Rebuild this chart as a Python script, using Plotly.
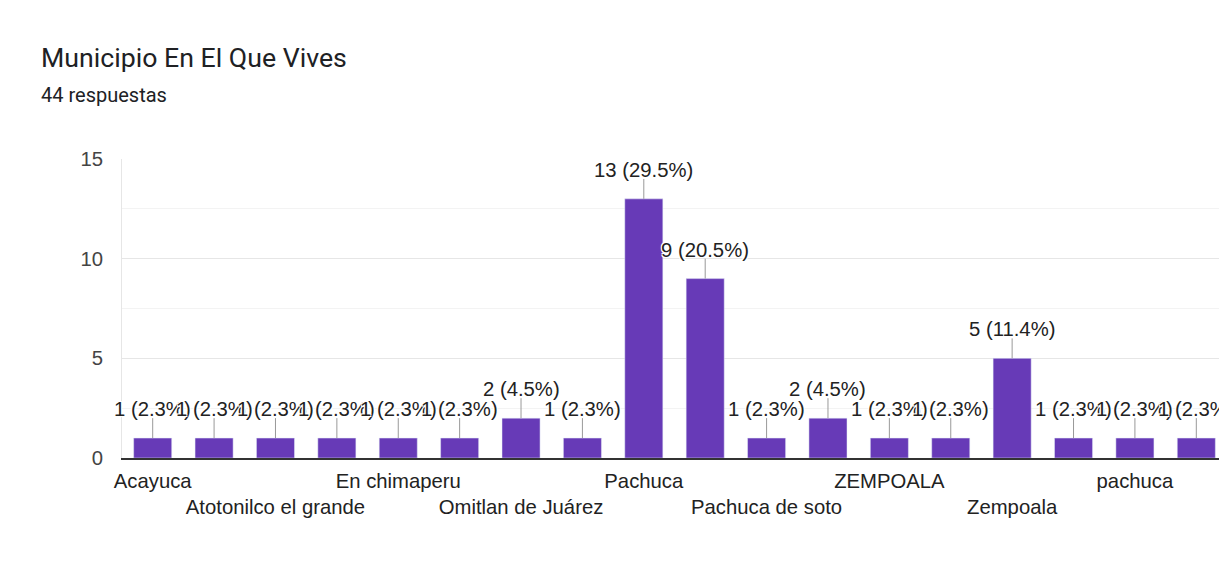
import plotly.graph_objects as go

# respuestas por municipio (orden alfabetico, como en el formulario)
municipios = [
    "Acayuca", "Actopan", "Atotonilco el grande", "El Arenal",
    "En chimaperu", "Mineral de la Reforma", "Omitlan de Juárez", "PACHUCA",
    "Pachuca", "Pachuca de Soto", "Pachuca de soto", "Tulancingo",
    "ZEMPOALA", "Zapotlán de Juárez", "Zempoala", "mineral de la reforma",
    "pachuca", "zempoala",
]
respuestas = [1, 1, 1, 1, 1, 1, 2, 1, 13, 9, 1, 2, 1, 1, 5, 1, 1, 1]
total = 44

# etiquetas del eje x que se ven (dos filas alternadas)
fila1 = ["Acayuca", "En chimaperu", "Pachuca", "ZEMPOALA", "pachuca"]
fila2 = ["Atotonilco el grande", "Omitlan de Juárez", "Pachuca de soto", "Zempoala"]

purple = "#673ab7"
label_font = "Liberation Sans, Arial, sans-serif"
fsize = 20.3
halo = "-1px -1px 0 #fff, 1px -1px 0 #fff, -1px 1px 0 #fff, 1px 1px 0 #fff, 0 0 2px #fff"
guia = 1.0  # largo de la linea guia en unidades del eje (~20px)

fig = go.Figure()
fig.add_trace(go.Bar(
    x=municipios, y=respuestas, marker_color=purple,
    hovertemplate="%{x}: %{y}<extra></extra>",
))
# copia invisible para el segundo eje de etiquetas
fig.add_trace(go.Bar(
    x=municipios, y=respuestas, xaxis="x2", marker_opacity=0,
    hoverinfo="skip", showlegend=False,
))

# lineas guia grises sobre cada barra
gx, gy = [], []
for m, v in zip(municipios, respuestas):
    gx += [m, m, None]
    gy += [v, v + guia, None]
fig.add_trace(go.Scatter(
    x=gx, y=gy, mode="lines", line=dict(color="#999999", width=1),
    hoverinfo="skip", showlegend=False, cliponaxis=False,
))

# etiquetas de valor
for m, v in zip(municipios, respuestas):
    fig.add_annotation(
        x=m, y=v, text=f"{v} ({v / total * 100:.1f}%)",
        showarrow=False, yanchor="middle", yshift=29,
        font=dict(family=label_font, size=fsize, color="#222222", shadow=halo),
    )

fig.add_annotation(
    xref="paper", yref="paper", x=(39 - 122) / 1105, y=(458 - 58) / 299,
    xanchor="left", yanchor="middle", showarrow=False,
    text="Municipio En El Que Vives",
    font=dict(family="Roboto, sans-serif", size=26.7, color="#202124"),
)
fig.add_annotation(
    xref="paper", yref="paper", x=(39 - 122) / 1105, y=(458 - 95) / 299,
    xanchor="left", yanchor="middle", showarrow=False,
    text="44 respuestas",
    font=dict(family="Roboto, sans-serif", size=20, color="#202124"),
)

# la pagina deja 8px de margen en el body
fig.update_layout(
    width=1219, height=575,
    margin=dict(l=114, r=0, t=151, b=125),
    paper_bgcolor="white", plot_bgcolor="white",
    font=dict(family=label_font, size=fsize, color="#222222"),
    bargap=0.38, barmode="overlay", showlegend=False,
    xaxis=dict(
        range=[-0.5, 17.5], tickvals=fila1, ticktext=fila1,
        showgrid=False, showline=True, linecolor="#333333", linewidth=1.5,
        ticks="", ticklabelstandoff=4, fixedrange=True,
    ),
    xaxis2=dict(
        overlaying="x", side="bottom", range=[-0.5, 17.5],
        tickvals=fila2, ticktext=fila2, showgrid=False, showline=False,
        ticks="", ticklabelstandoff=35, fixedrange=True,
    ),
    yaxis=dict(
        range=[0, 15], dtick=5, gridcolor="#e6e6e6", gridwidth=1,
        minor=dict(dtick=2.5, showgrid=True, gridcolor="#f3f3f3"),
        showline=True, linecolor="#e6e6e6", zeroline=False,
        tickfont=dict(color="#444444"), ticklabelstandoff=14, fixedrange=True,
    ),
)

fig.write_html("out.html")
